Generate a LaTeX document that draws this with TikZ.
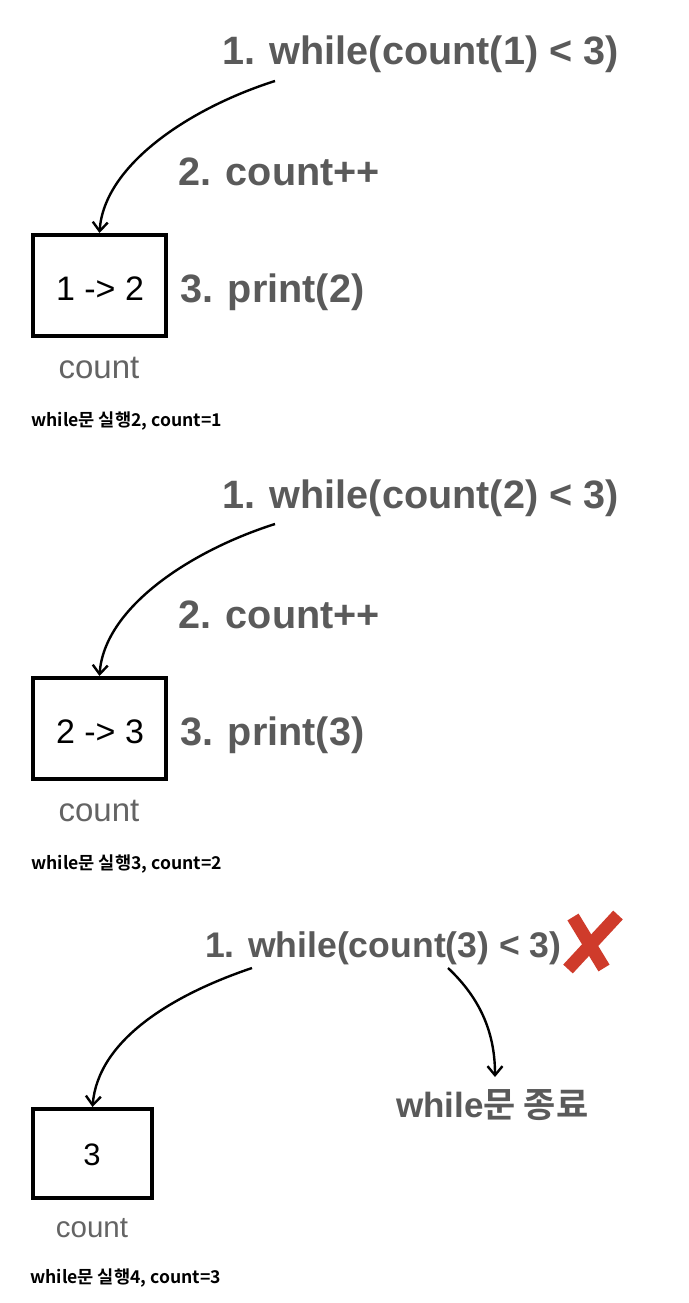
\documentclass[tikz,border=0pt]{standalone}
\usepackage{fontspec}
\setmainfont{Liberation Sans}
\newfontfamily\kr{Noto Sans CJK KR}[BoldFont={Noto Sans CJK KR Bold}]
\usetikzlibrary{arrows.meta}
\definecolor{txtgray}{RGB}{90,90,90}
\definecolor{lblgray}{RGB}{100,100,100}
\definecolor{xred}{RGB}{207,59,43}
\tikzset{
  stepline/.style={font=\bfseries\fontsize{39.6}{40}\selectfont, text=txtgray, anchor=base west, inner sep=0pt},
  smallline/.style={font=\bfseries\fontsize{35.6}{36}\selectfont, text=txtgray, anchor=base west, inner sep=0pt},
  varbox/.style={draw=black, line width=4pt, inner sep=0pt},
  boxtext/.style={font=\fontsize{34}{35}\selectfont, text=black, anchor=base, inner sep=0pt},
  varname/.style={font=\fontsize{33}{34}\selectfont, text=lblgray, anchor=base, inner sep=0pt},
  caption/.style={font=\kr\bfseries\fontsize{17.6}{18}\selectfont, text=black, anchor=base west, inner sep=0pt},
  flow/.style={line width=2.4pt, -{Straight Barb[length=9pt,width=15pt,line width=2.4pt]}},
  xstroke/.style={xred, line width=13pt, line cap=butt},
}
\begin{document}
\begin{tikzpicture}[x=1pt,y=-1pt]
\path[use as bounding box, fill=white] (0,0) rectangle (688,1303);

% ---------- section 1 ----------
\node[stepline] (c1) at (222,65) {1. while(count(1) < 3)};
\node[stepline] (i1) at (178,185) {2. count++};
\node[stepline] (p1) at (180,302) {3. print(2)};
\node[varbox, minimum width=133pt, minimum height=101pt] (b1) at (99.5,285.5) {};
\node[boxtext] (v1) at (100,300) {1 -> 2};
\node[varname] (n1) at (99,378) {count};
\node[caption] (t1) at (31,426) {while문 실행2, count=1};
\coordinate (s1) at (275,81);
\draw[flow] (s1) .. controls (190,108) and (104,165) .. (b1.north);

% ---------- section 2 ----------
\node[stepline] (c2) at (222,508) {1. while(count(2) < 3)};
\node[stepline] (i2) at (178,628) {2. count++};
\node[stepline] (p2) at (180,745) {3. print(3)};
\node[varbox, minimum width=133pt, minimum height=101pt] (b2) at (99.5,728.5) {};
\node[boxtext] (v2) at (100,743) {2 -> 3};
\node[varname] (n2) at (99,821) {count};
\node[caption] (t2) at (31,869) {while문 실행3, count=2};
\coordinate (s2) at (275,524);
\draw[flow] (s2) .. controls (190,551) and (104,608) .. (b2.north);

% ---------- section 3 ----------
\node[smallline] (c3) at (205,957) {1. while(count(3) < 3)};
\node[varbox, minimum width=119pt, minimum height=89pt] (b3) at (92.5,1153.5) {};
\node[boxtext, font=\fontsize{31}{32}\selectfont] (v3) at (92,1165) {3};
\node[varname, font=\fontsize{29.5}{30}\selectfont] (n3) at (92,1237) {count};
\node[caption] (t3) at (30,1283) {while문 실행4, count=3};
\node[smallline, font=\bfseries\fontsize{35}{36}\selectfont] (e3) at (396,1117) {while{\kr\bfseries 문 종료}};
\coordinate (s3) at (252,968);
\coordinate (s4) at (448,968);
\coordinate (e4) at (495,1077);
\draw[flow] (s3) .. controls (172,995) and (98,1040) .. (b3.north);
\draw[flow] (s4) .. controls (482,1000) and (495,1035) .. (e4);

% red X
\coordinate (xa) at (573,917);
\coordinate (xb) at (604,968);
\coordinate (xc) at (618,915);
\coordinate (xd) at (568,969);
\draw[xstroke] (xa) -- (xb);
\draw[xstroke] (xc) -- (xd);
\end{tikzpicture}
\end{document}
